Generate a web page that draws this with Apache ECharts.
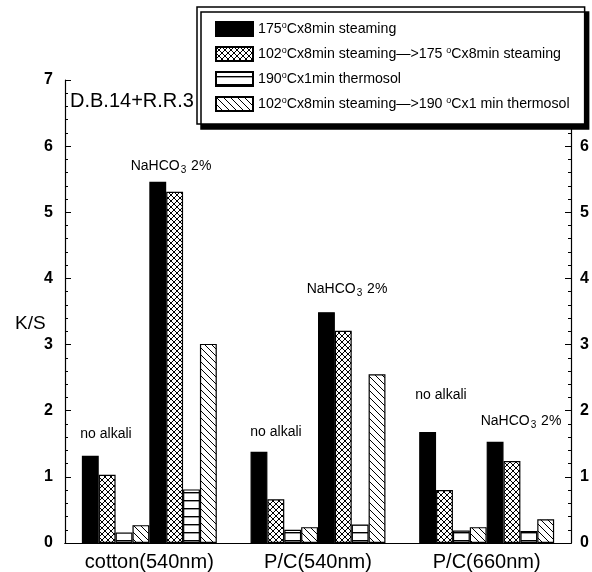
<!DOCTYPE html>
<html>
<head>
<meta charset="utf-8">
<script src="https://cdn.jsdelivr.net/npm/echarts@6/dist/echarts.min.js"></script>
<style>
  html, body { margin: 0; padding: 0; background: #fff; }
  #chart { width: 592px; height: 572px; }
</style>
</head>
<body>
<div id="chart"></div>
<script>
const categories = ['cotton(540nm)', 'P/C(540nm)', 'P/C(660nm)']
const treatments = [
  '175{sup|o}Cx8min steaming',
  '102{sup|o}Cx8min steaming—>175 {sup|o}Cx8min steaming',
  '190{sup|o}Cx1min thermosol',
  '102{sup|o}Cx8min steaming—>190 {sup|o}Cx1 min thermosol'
]

// no alkali
const noAlkali175 = [1.32, 1.38, 1.68]
const noAlkali102to175 = [1.03, 0.66, 0.80]
const noAlkali190 = [0.16, 0.20, 0.19]
const noAlkali102to190 = [0.27, 0.24, 0.24]
// NaHCO3 2%
const soda175 = [5.46, 3.49, 1.53]
const soda102to175 = [5.31, 3.21, 1.24]
const soda190 = [0.81, 0.28, 0.18]
const soda102to190 = [3.01, 2.55, 0.36]

const font = "'Liberation Sans', Arial, sans-serif"

const makePattern = (kind) => {
  const s = kind === 'cross' ? 6 : kind === 'horiz' ? 8 : 7
  const c = document.createElement('canvas')
  c.width = s
  c.height = s
  const ctx = c.getContext('2d')
  ctx.fillStyle = '#fff'
  ctx.fillRect(0, 0, s, s)
  ctx.strokeStyle = '#000'
  ctx.lineWidth = 1
  if (kind === 'horiz') {
    ctx.fillStyle = '#000'
    ctx.fillRect(0, 4, s, 1.4)
  } else {
    for (const dx of [-s, 0, s]) {
      ctx.beginPath()
      ctx.moveTo(dx - 1, -1)
      ctx.lineTo(dx + s + 1, s + 1)
      ctx.stroke()
      if (kind === 'cross') {
        ctx.beginPath()
        ctx.moveTo(dx + s + 1, -1)
        ctx.lineTo(dx - 1, s + 1)
        ctx.stroke()
      }
    }
  }
  return { image: c, repeat: 'repeat' }
}

const fills = ['#000', makePattern('cross'), makePattern('horiz'), makePattern('diag')]

const groups = [
  [noAlkali175, noAlkali102to175, noAlkali190, noAlkali102to190],
  [soda175, soda102to175, soda190, soda102to190]
]

const series = []
groups.forEach(g => {
  g.forEach((vals, i) => {
    series.push({
      name: treatments[i],
      type: 'bar',
      data: vals,
      barGap: '0%',
      barCategoryGap: '20%',
      itemStyle: {
        color: fills[i],
        borderColor: '#000',
        borderWidth: 1.2
      },
      emphasis: { disabled: true }
    })
  })
})

const nahco3 = 'NaHCO{sub|3} 2%'
const annoRich = {
  sub: { fontSize: 10, fontFamily: font, padding: [9, 1, 0, 1] }
}
const annotations = [
  { text: 'no alkali', x: 106, y: 434 },
  { text: nahco3, x: 171, y: 166 },
  { text: 'no alkali', x: 276, y: 432 },
  { text: nahco3, x: 347, y: 289 },
  { text: 'no alkali', x: 441, y: 395 },
  { text: nahco3, x: 521, y: 421 }
]

const chart = echarts.init(document.getElementById('chart'))

const yAxisBase = {
  type: 'value',
  min: 0,
  max: 7,
  interval: 1,
  splitLine: { show: false },
  axisLine: { show: true, lineStyle: { color: '#000', width: 1.2 } },
  axisTick: { show: true, inside: true, length: 6, lineStyle: { color: '#000' } },
  minorTick: { show: true, splitNumber: 5, length: 3, lineStyle: { color: '#000' } },
  axisLabel: {
    color: '#000',
    fontFamily: font,
    fontSize: 16,
    fontWeight: 'bold'
  }
}

chart.setOption({
  animation: false,
  backgroundColor: '#fff',
  grid: { left: 65, right: 21, top: 80, bottom: 28 },
  legend: {
    data: treatments,
    orient: 'vertical',
    left: 197,
    top: 7,
    padding: [14, 15, 12, 18],
    itemGap: 9,
    itemWidth: 37,
    itemHeight: 14,
    icon: 'rect',
    backgroundColor: '#fff',
    borderColor: '#000',
    borderWidth: 1.5,
    borderRadius: 0,
    shadowColor: '#000',
    shadowBlur: 0,
    shadowOffsetX: 4,
    shadowOffsetY: 5,
    selectedMode: false,
    textStyle: {
      color: '#000',
      fontFamily: font,
      fontSize: 14.2,
      rich: {
        sup: { fontSize: 9, fontFamily: font, padding: [0, 0, 7, 0] }
      }
    }
  },
  xAxis: [
    {
      type: 'category',
      data: categories,
      axisLine: { lineStyle: { color: '#000', width: 1.2 } },
      axisTick: { show: false },
      axisLabel: { color: '#000', fontFamily: font, fontSize: 20, margin: 9 }
    },
    {
      type: 'category',
      position: 'top',
      data: categories,
      axisLine: { show: true, lineStyle: { color: '#000', width: 1.2 } },
      axisTick: { show: false },
      axisLabel: { show: false }
    }
  ],
  yAxis: [
    Object.assign({}, yAxisBase, {
      position: 'left',
      axisLabel: Object.assign({}, yAxisBase.axisLabel, { margin: 12 })
    }),
    Object.assign({}, yAxisBase, {
      position: 'right',
      axisLabel: Object.assign({}, yAxisBase.axisLabel, { margin: 9 })
    })
  ],
  graphic: [
    {
      type: 'text',
      left: 15,
      top: 314,
      style: { text: 'K/S', fill: '#000', font: '19px ' + font }
    },
    {
      type: 'text',
      left: 70,
      top: 91,
      style: { text: 'D.B.14+R.R.3', fill: '#000', font: '20px ' + font }
    },
    ...annotations.map(a => ({
      type: 'text',
      x: a.x,
      y: a.y,
      style: {
        text: a.text,
        fill: '#000',
        fontFamily: font,
        fontSize: 14,
        align: 'center',
        verticalAlign: 'middle',
        rich: annoRich
      }
    }))
  ],
  series: series
})
</script>
</body>
</html>
